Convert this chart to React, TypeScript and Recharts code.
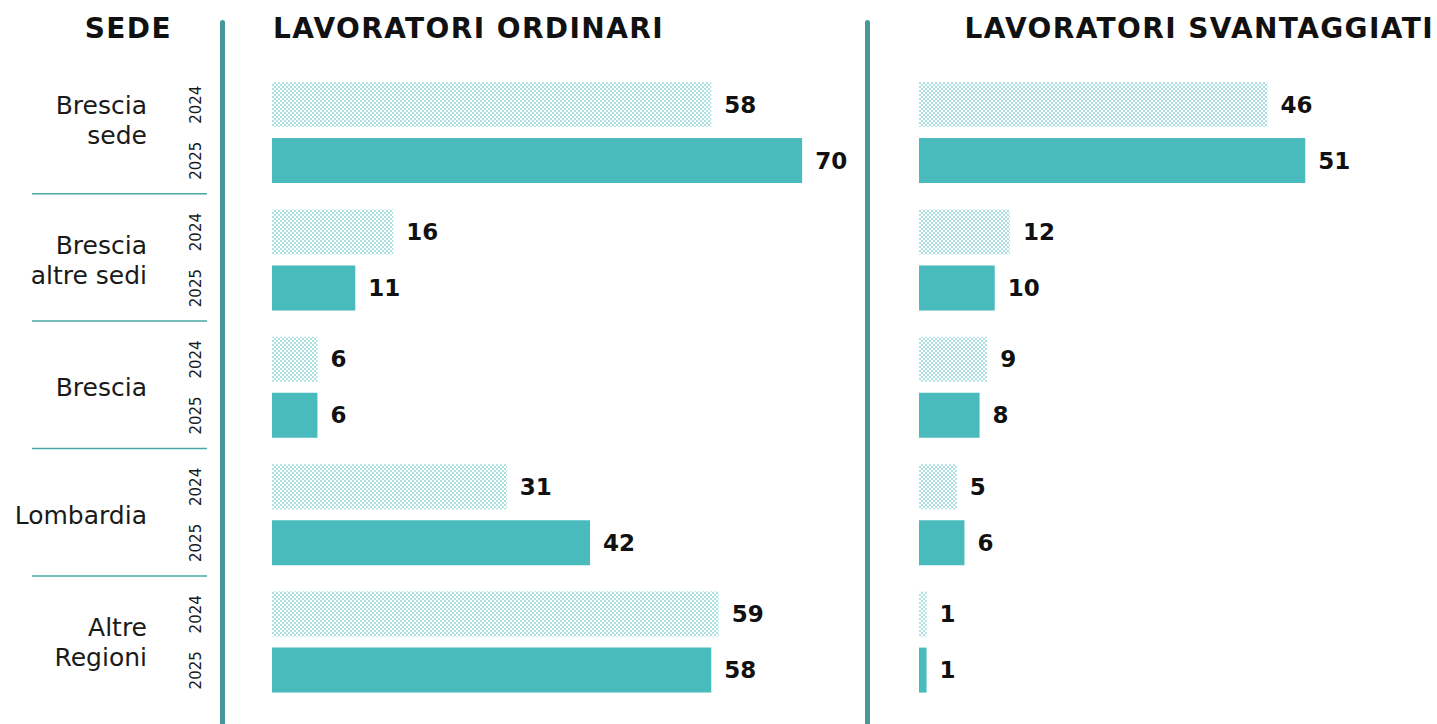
import { Bar, BarChart, LabelList, XAxis, YAxis } from "recharts";

const SEDI = ["Brescia sede", "Brescia altre sedi", "Brescia", "Lombardia", "Altre Regioni"];
const SEDI_RIGHE = [["Brescia", "sede"], ["Brescia", "altre sedi"], ["Brescia"], ["Lombardia"], ["Altre", "Regioni"]];
const ANNI = ["2024", "2025"];

const ORDINARI_2024 = [58, 16, 6, 31, 59];
const ORDINARI_2025 = [70, 11, 6, 42, 58];
const SVANTAGGIATI_2024 = [46, 12, 9, 5, 1];
const SVANTAGGIATI_2025 = [51, 10, 8, 6, 1];

const TEAL = "#4abbbd";
const LINE = "#45999b";
const FONT = "'DejaVu Sans', sans-serif";

const ordinari = SEDI.map((sede, i) => ({ sede, a: ORDINARI_2024[i], b: ORDINARI_2025[i] }));
const svantaggiati = SEDI.map((sede, i) => ({ sede, a: SVANTAGGIATI_2024[i], b: SVANTAGGIATI_2025[i] }));

const BAR = 45;
const GAP = 11;

function SedeTick(props: any) {
  const { y, payload } = props;
  const righe = SEDI_RIGHE[payload.index];
  const top = y - ((righe.length - 1) * 30) / 2 - (payload.index === 0 ? 12 : 0);
  return (
    <g>
      {righe.map((r, k) => (
        <text
          key={r}
          x={147}
          y={top + k * 30}
          dy="0.35em"
          textAnchor="end"
          fontSize={25}
          fontFamily={FONT}
          fill="#1a1a1a"
        >
          {r}
        </text>
      ))}
      {ANNI.map((anno, k) => {
        const cy = y + (k === 0 ? -1 : 1) * ((BAR + GAP) / 2);
        return (
          <text
            key={anno}
            x={196}
            y={cy}
            dy="0.35em"
            textAnchor="middle"
            fontSize={15}
            fontFamily={FONT}
            fill="#1a1a1a"
            transform={`rotate(-90 196 ${cy})`}
          >
            {anno}
          </text>
        );
      })}
      {payload.index < SEDI.length - 1 && (
        <line x1={32} x2={207} y1={y + 61} y2={y + 61} stroke="#4aa7a9" strokeWidth={1.5} />
      )}
    </g>
  );
}

const labelProps = {
  position: "right" as const,
  offset: 13,
  fill: "#111",
  fontSize: 23,
  fontWeight: 700,
  fontFamily: FONT,
};

const titleStyle: React.CSSProperties = {
  position: "absolute",
  top: 12,
  fontFamily: FONT,
  fontWeight: 700,
  fontSize: 28,
  color: "#111",
  letterSpacing: 1.4,
  whiteSpace: "nowrap",
};

export default function App() {
  return (
    <div
      style={{
        position: "absolute",
        left: 0,
        top: 0,
        width: 1437,
        height: 724,
        overflow: "hidden",
        background: "#fff",
      }}
    >
      <svg width={0} height={0} style={{ position: "absolute" }}>
        <defs>
          <pattern id="dots" width={4} height={4} patternUnits="userSpaceOnUse">
            <rect x={0} y={0} width={2} height={2} fill="#ace0e2" />
            <rect x={2} y={2} width={2} height={2} fill="#ace0e2" />
          </pattern>
        </defs>
      </svg>

      <div style={{ ...titleStyle, right: 1437 - 172 }}>SEDE</div>
      <div style={{ ...titleStyle, left: 273 }}>LAVORATORI ORDINARI</div>
      <div style={{ ...titleStyle, right: 3 }}>LAVORATORI SVANTAGGIATI</div>

      <div style={{ position: "absolute", left: 220, top: 20, width: 5, bottom: -4, background: LINE, borderRadius: 3 }} />
      <div style={{ position: "absolute", left: 865, top: 20, width: 5, bottom: -4, background: LINE, borderRadius: 3 }} />

      <div style={{ position: "absolute", left: 0, top: 0 }}>
        <BarChart
          width={860}
          height={724}
          data={ordinari}
          layout="vertical"
          margin={{ top: 69, right: 20, bottom: 18, left: 0 }}
          barSize={BAR}
          barGap={GAP}
        >
          <XAxis type="number" domain={[0, 75]} hide />
          <YAxis
            type="category"
            dataKey="sede"
            width={272}
            axisLine={false}
            tickLine={false}
            tick={(p: any) => <SedeTick {...p} />}
          />
          <Bar dataKey="a" fill="url(#dots)" isAnimationActive={false}>
            <LabelList dataKey="a" {...labelProps} />
          </Bar>
          <Bar dataKey="b" fill={TEAL} isAnimationActive={false}>
            <LabelList dataKey="b" {...labelProps} />
          </Bar>
        </BarChart>
      </div>

      <div style={{ position: "absolute", left: 869, top: 0 }}>
        <BarChart
          width={568}
          height={724}
          data={svantaggiati}
          layout="vertical"
          margin={{ top: 69, right: 3, bottom: 18, left: 50 }}
          barSize={BAR}
          barGap={GAP}
        >
          <XAxis type="number" domain={[0, 68]} hide />
          <YAxis type="category" dataKey="sede" hide />
          <Bar dataKey="a" fill="url(#dots)" isAnimationActive={false}>
            <LabelList dataKey="a" {...labelProps} />
          </Bar>
          <Bar dataKey="b" fill={TEAL} isAnimationActive={false}>
            <LabelList dataKey="b" {...labelProps} />
          </Bar>
        </BarChart>
      </div>
    </div>
  );
}
